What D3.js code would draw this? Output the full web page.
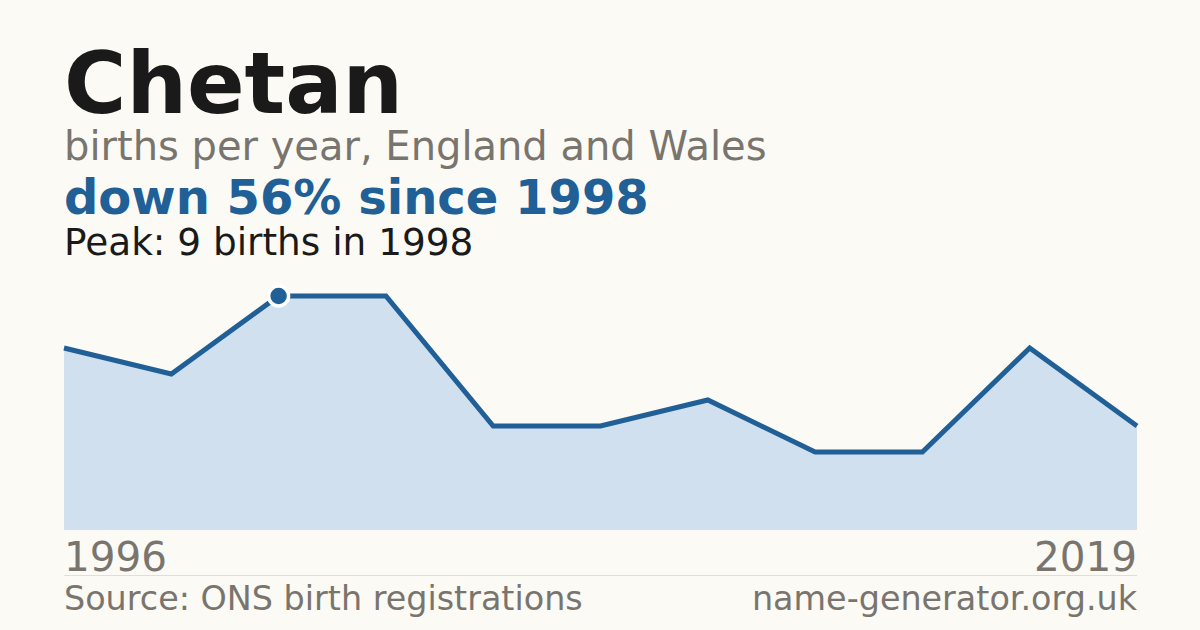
<!DOCTYPE html>
<html>
<head>
<meta charset="utf-8">
<script src="https://cdn.jsdelivr.net/npm/d3@7"></script>
<style>
  html, body { margin: 0; padding: 0; background: #fbfaf5; }
  svg { display: block; font-family: "DejaVu Sans", sans-serif; }
</style>
</head>
<body>
<svg></svg>
<script>
// births per year (years with registrations shown)
let years = [1996, 1997, 1998, 1999, 2001, 2003, 2006, 2009, 2011, 2015, 2019];
let births = [7, 6, 9, 9, 4, 4, 5, 3, 3, 7, 4];
let axisLabels = ["1996", "2019"];

let width = 1200;
let height = 630;
let plotLeft = 64;
let plotRight = 1137;
let plotTop = 296;
let plotBottom = 530;

let blue = "#215f97";
let grey = "#79756e";

let svg = d3.select("svg").attr("width", width).attr("height", height);

svg.append("rect")
  .attr("width", width)
  .attr("height", height)
  .attr("fill", "#fbfaf5");

let values = years.map((y, i) => ({ year: y, births: births[i] }));

let xScale = d3.scalePoint()
  .domain(years)
  .range([plotLeft, plotRight]);

let yScale = d3.scaleLinear()
  .domain([0, d3.max(births)])
  .range([plotBottom, plotTop]);

// headings
svg.append("text")
  .attr("x", plotLeft).attr("y", 113)
  .attr("font-size", 85).attr("font-weight", "bold")
  .attr("fill", "#1a1a1a")
  .text("Chetan");

svg.append("text")
  .attr("x", plotLeft).attr("y", 160)
  .attr("font-size", 40)
  .attr("fill", grey)
  .text("births per year, England and Wales");

let peak = values.reduce((a, b) => (b.births > a.births ? b : a));
let last = values[values.length - 1];
let change = Math.round((1 - last.births / peak.births) * 100);

svg.append("text")
  .attr("x", plotLeft).attr("y", 214)
  .attr("font-size", 48).attr("font-weight", "bold")
  .attr("fill", blue)
  .text(`down ${change}% since ${peak.year}`);

svg.append("text")
  .attr("x", plotLeft).attr("y", 255)
  .attr("font-size", 37.4)
  .attr("fill", "#1a1a1a")
  .text(`Peak: ${peak.births} births in ${peak.year}`);

// area + line
let area = d3.area()
  .x((d) => xScale(d.year))
  .y0(yScale(0))
  .y1((d) => yScale(d.births));

let line = d3.line()
  .x((d) => xScale(d.year))
  .y((d) => yScale(d.births));

svg.append("path")
  .datum(values)
  .attr("d", area)
  .attr("fill", "#d0e0ef");

svg.append("path")
  .datum(values)
  .attr("d", line)
  .attr("fill", "none")
  .attr("stroke", blue)
  .attr("stroke-width", 5)
  .attr("stroke-linejoin", "miter");

svg.append("circle")
  .attr("cx", xScale(peak.year))
  .attr("cy", yScale(peak.births))
  .attr("r", 10)
  .attr("fill", blue)
  .attr("stroke", "#ffffff")
  .attr("stroke-width", 3.5);

// year labels at the ends
svg.append("text")
  .attr("x", plotLeft).attr("y", 571)
  .attr("font-size", 40.5)
  .attr("fill", grey)
  .text(axisLabels[0]);

svg.append("text")
  .attr("x", plotRight).attr("y", 571)
  .attr("font-size", 40.5)
  .attr("text-anchor", "end")
  .attr("fill", grey)
  .text(axisLabels[1]);

// footer
svg.append("line")
  .attr("x1", plotLeft).attr("x2", plotRight)
  .attr("y1", 575.5).attr("y2", 575.5)
  .attr("stroke", "#e2ded6")
  .attr("stroke-width", 1);

svg.append("text")
  .attr("x", plotLeft).attr("y", 610)
  .attr("font-size", 33.4)
  .attr("fill", grey)
  .text("Source: ONS birth registrations");

svg.append("text")
  .attr("x", plotRight).attr("y", 610)
  .attr("font-size", 33.4)
  .attr("text-anchor", "end")
  .attr("fill", grey)
  .text("name-generator.org.uk");
</script>
</body>
</html>
